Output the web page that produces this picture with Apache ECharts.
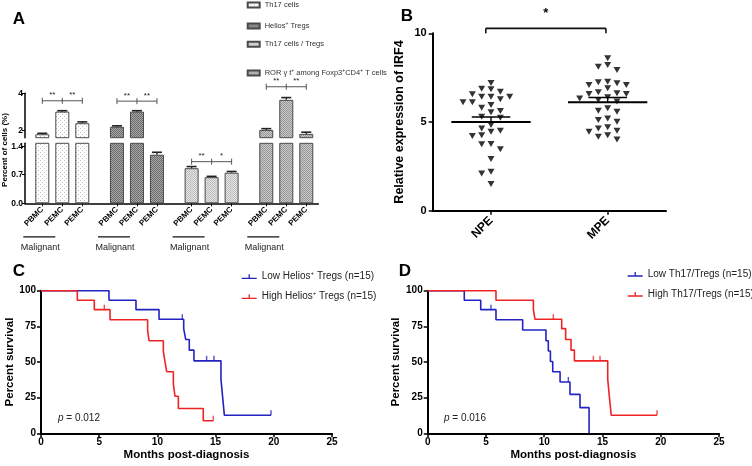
<!DOCTYPE html>
<html><head><meta charset="utf-8">
<script src="https://cdn.jsdelivr.net/npm/echarts@6/dist/echarts.min.js"></script>
<style>html,body{margin:0;padding:0;background:#fff}#c{width:752px;height:466px}</style>
</head><body><div id="c"></div>
<script>
// ---------- Panel A data ----------
const groupNames = ['Th17 cells', 'Helios+ Tregs', 'Th17 cells / Tregs', 'RORγt+ among Foxp3+CD4+ T cells'];
const groupLegendText = ['Th17 cells', 'Helios{sup|+} Tregs', 'Th17 cells / Tregs', 'ROR γ t{sup|+} among Foxp3{sup|+}CD4{sup|+} T cells'];
const barLabels = ['PBMC', 'PEMC', 'PEMC'];
const subLabel = 'Malignant';
const th17Values = [1.81, 3.02, 2.40];
const heliosValues = [2.21, 3.02, 1.19];
const ratioValues = [0.86, 0.64, 0.75];
const rorValues = [2.04, 3.65, 1.83];
const th17Err = [0.05, 0.05, 0.07];
const heliosErr = [0.05, 0.05, 0.06];
const ratioErr = [0.04, 0.02, 0.03];
const rorErr = [0.07, 0.12, 0.09];
const sigLevels = [3.60, 3.58, 1.02, 4.35];
const sigStarsLeft = ['**', '**', '**', '**'];
const sigStarsRight = ['**', '**', '*', '**'];
const yTicksLower = [0, 0.7, 1.4];
const yTicksUpper = [2, 4];

// ---------- Panel B data ----------
const irfCategories = ['NPE', 'MPE'];
const npeValues = [7.2, 6.84, 6.71, 6.88, 6.56, 6.43, 6.43, 6.43, 6.28, 6.11, 5.96, 6.11, 5.81, 5.62, 5.55, 5.3, 5.24, 4.83, 4.64, 4.25, 4.45, 4.51, 4.21, 3.76, 3.74, 3.46, 2.91, 2.2, 2.1, 1.5];
const mpeValues = [8.59, 8.12, 7.93, 8.21, 7.24, 7.09, 6.9, 7.09, 7.18, 7.27, 6.62, 6.58, 6.33, 6.24, 6.39, 6.58, 6.67, 6.15, 5.77, 5.58, 5.64, 5.2, 5.02, 5.11, 4.64, 4.51, 4.7, 4.02, 4.17, 4.45, 4.26];
const irfMeans = [5.0, 6.12];
const irfSems = [0.28, 0.26];
const sigBLevel = [10.28];
const sigBLabel = ['*'];

// ---------- Panel C data ----------
const cNames = ['Low Helios+ Tregs (n=15)', 'High Helios+ Tregs (n=15)'];
const cLegendText = ['Low Helios{sup|+} Tregs (n=15)', 'High Helios{sup|+} Tregs (n=15)'];
const cLowTimes = [0, 5.84, 8.16, 10.14, 12.26, 12.43, 12.74, 13.14, 15.46, 15.61, 15.75, 19.76];
const cLowSurv = [100, 93.3, 86.7, 80, 73.4, 65.8, 58.3, 50.8, 38, 25, 12.7, 12.7];
const cLowCensT = [12.14, 14.23, 14.86, 19.76];
const cLowCensS = [80, 50.8, 50.8, 12.7];
const cHighTimes = [0, 3.12, 4.58, 5.93, 9.16, 9.28, 10.51, 10.65, 10.8, 11.37, 11.51, 11.8, 13.94, 14.8];
const cHighSurv = [100, 93.3, 86.7, 79.6, 72.4, 64.9, 57.7, 50.3, 43.2, 34.6, 26.0, 17.4, 8.8, 8.8];
const cHighCensT = [5.44, 14.8];
const cHighCensS = [86.7, 8.8];
const cPText = '{i|p} = 0.012';

// ---------- Panel D data ----------
const dNames = ['Low Th17/Tregs (n=15)', 'High Th17/Tregs (n=15)'];
const dLowTimes = [0, 3.14, 4.55, 5.86, 8.15, 10.15, 10.35, 10.53, 10.73, 11.36, 12.21, 13.07, 13.85];
const dLowSurv = [100, 93.3, 86.7, 79.6, 72.4, 64.9, 57.7, 50.3, 43.2, 36.0, 27.3, 18.0, 0];
const dLowCensT = [5.43, 12.07];
const dLowCensS = [86.7, 36.0];
const dHighTimes = [0, 5.86, 9.07, 9.2, 11.5, 11.84, 12.3, 12.59, 15.45, 15.6, 15.75, 19.68];
const dHighSurv = [100, 93.3, 86.7, 80, 73.4, 65.8, 58.3, 50.8, 38, 25, 12.7, 12.7];
const dHighCensT = [10.78, 14.22, 14.79, 19.68];
const dHighCensS = [80, 50.8, 50.8, 12.7];
const dPText = '{i|p} = 0.016';

const kmTicksY = 25, kmTicksX = 5;

// ---------- build ----------
const FONT = '"Liberation Sans", Arial, Helvetica, sans-serif';
const BLUE = '#2323c4', RED = '#ee2424';
const STEP = 3.733;
const barX = (g, b) => g * STEP + b;
const LOWER_MAX = 1.47, UPPER_MIN = 1.626;
const groupValues = [th17Values, heliosValues, ratioValues, rorValues];
const groupErrors = [th17Err, heliosErr, ratioErr, rorErr];
const barXs = [];
groupNames.forEach((n, g) => barLabels.forEach((l, b) => barXs.push(barX(g, b))));
const labelAt = v => { const i = barXs.findIndex(x => Math.abs(x - v) < 0.01); return i < 0 ? '' : barLabels[i % 3]; };

function pattern(c1, c2, kind) {
  const cv = document.createElement('canvas');
  cv.width = 4; cv.height = 4;
  const ctx = cv.getContext('2d');
  ctx.fillStyle = c1; ctx.fillRect(0, 0, 4, 4);
  ctx.fillStyle = c2;
  if (kind === 'dots') { ctx.fillRect(0, 0, 1, 1); ctx.fillRect(2, 2, 1, 1); }
  else { for (let y = 0; y < 4; y++) for (let x = 0; x < 4; x++) if ((x + y) % 2 === 0) ctx.fillRect(x, y, 1, 1); }
  return { image: cv, repeat: 'repeat' };
}
const fills = [pattern('#ffffff', '#bdbdbd', 'dots'), pattern('#a8a8a8', '#6a6a6a', 'check'),
               pattern('#e4e4e4', '#bcbcbc', 'check'), pattern('#cccccc', '#949494', 'check')];

function swarm(values, center) {
  const order = values.map((v, i) => i).sort((a, b) => values[b] - values[a]);
  const placed = [], out = new Array(values.length);
  for (const i of order) {
    const v = values[i];
    for (let k = 0; k < 30; k++) {
      const col = k === 0 ? 0 : (k % 2 ? -Math.ceil(k / 2) : Math.ceil(k / 2));
      if (!placed.some(p => p.col === col && Math.abs(p.v - v) < 0.36)) {
        placed.push({ col, v }); out[i] = [center + col * 0.08, v]; break;
      }
    }
  }
  return out;
}

const blackLine = w => ({ show: true, onZero: false, lineStyle: { color: '#000', width: w } });
const series = [];

// A bars
groupNames.forEach((name, g) => {
  [0, 1].forEach(k => {
    const data = groupValues[g].map((v, b) => [barX(g, b), v]).filter(d => k === 0 || d[1] > LOWER_MAX);
    series.push({ type: 'bar', name, xAxisIndex: k, yAxisIndex: k, barWidth: 14, barGap: '-100%', clip: true, silent: true,
      data, itemStyle: { color: fills[g], borderColor: '#4a4a4a', borderWidth: 1 } });
  });
});
// A error bars
const errAll = [];
groupValues.forEach((vals, g) => vals.forEach((v, b) => errAll.push([barX(g, b), v, groupErrors[g][b]])));
function renderErr(params, api) {
  const x = api.value(0), v = api.value(1), e = api.value(2);
  const p0 = api.coord([x, v]), p1 = api.coord([x, v + e]);
  const st = { stroke: '#222', lineWidth: 1.3 };
  return { type: 'group', children: [
    { type: 'line', shape: { x1: p0[0], y1: p0[1], x2: p1[0], y2: p1[1] }, style: st },
    { type: 'line', shape: { x1: p1[0] - 5, y1: p1[1], x2: p1[0] + 5, y2: p1[1] }, style: { stroke: '#222', lineWidth: 1.6 } }
  ] };
}
series.push({ type: 'custom', xAxisIndex: 0, yAxisIndex: 0, z: 5, silent: true, renderItem: renderErr, data: errAll.filter(d => d[1] <= LOWER_MAX) });
series.push({ type: 'custom', xAxisIndex: 1, yAxisIndex: 1, z: 5, silent: true, renderItem: renderErr, data: errAll.filter(d => d[1] > LOWER_MAX) });
// A significance brackets
function renderSig(params, api) {
  const g = api.value(0), lvl = api.value(1);
  const pa = api.coord([barX(g, 0), lvl]), pm = api.coord([barX(g, 1), lvl]), pb = api.coord([barX(g, 2), lvl]);
  const st = { stroke: '#555', lineWidth: 1 };
  const txt = (t, x, y) => ({ type: 'text', style: { text: t, x, y, align: 'center', verticalAlign: 'middle', fontSize: 8, fontFamily: FONT, fill: '#222' } });
  return { type: 'group', children: [
    { type: 'line', shape: { x1: pa[0], y1: pa[1], x2: pb[0], y2: pb[1] }, style: st },
    ...[pa, pm, pb].map(p => ({ type: 'line', shape: { x1: p[0], y1: p[1] - 3, x2: p[0], y2: p[1] + 3 }, style: st })),
    txt(sigStarsLeft[g], (pa[0] + pm[0]) / 2, pa[1] - 5.5),
    txt(sigStarsRight[g], (pm[0] + pb[0]) / 2, pa[1] - 5.5)
  ] };
}
const sigData = sigLevels.map((l, g) => [g, l]);
series.push({ type: 'custom', xAxisIndex: 1, yAxisIndex: 1, z: 6, silent: true, renderItem: renderSig, data: sigData.filter(d => d[1] > LOWER_MAX) });
series.push({ type: 'custom', xAxisIndex: 0, yAxisIndex: 0, z: 6, silent: true, renderItem: renderSig, data: sigData.filter(d => d[1] <= LOWER_MAX) });
// A "Malignant" underline
series.push({ type: 'custom', xAxisIndex: 0, yAxisIndex: 0, z: 6, silent: true, data: groupNames.map((n, g) => [g]),
  renderItem: (params, api) => {
    const p = api.coord([barX(api.value(0), 0), 0]);
    return { type: 'group', children: [
      { type: 'line', shape: { x1: p[0] - 19, y1: p[1] + 33.5, x2: p[0] + 13, y2: p[1] + 33.5 }, style: { stroke: '#111', lineWidth: 1.2 } },
      { type: 'text', style: { text: subLabel, x: p[0] - 2, y: p[1] + 44.5, align: 'center', verticalAlign: 'middle', fontSize: 9, fontFamily: FONT, fill: '#222' } }
    ] };
  } });

// B scatter + mean/sem + bracket
series.push({ type: 'scatter', xAxisIndex: 2, yAxisIndex: 2, symbol: 'triangle', symbolRotate: 180, symbolSize: [7, 6], silent: true,
  itemStyle: { color: '#000' }, data: swarm(npeValues, 0).concat(swarm(mpeValues, 1)) });
series.push({ type: 'custom', xAxisIndex: 2, yAxisIndex: 2, z: 4, silent: true, data: irfMeans.map((m, i) => [i, m, irfSems[i]]),
  renderItem: (params, api) => {
    const i = api.value(0), m = api.value(1), s = api.value(2);
    const a = api.coord([i - 0.34, m]), b = api.coord([i + 0.34, m]);
    const c = api.coord([i - 0.165, m + s]), d = api.coord([i + 0.165, m + s]), mid = api.coord([i, m]);
    return { type: 'group', children: [
      { type: 'line', shape: { x1: a[0], y1: a[1], x2: b[0], y2: b[1] }, style: { stroke: '#000', lineWidth: 2 } },
      { type: 'line', shape: { x1: c[0], y1: c[1], x2: d[0], y2: d[1] }, style: { stroke: '#000', lineWidth: 1.6 } },
      { type: 'line', shape: { x1: mid[0], y1: mid[1], x2: mid[0], y2: c[1] }, style: { stroke: '#000', lineWidth: 1.4 } }
    ] };
  } });
series.push({ type: 'custom', xAxisIndex: 2, yAxisIndex: 2, z: 4, silent: true, data: sigBLevel.map((l, i) => [l, i]),
  renderItem: (params, api) => {
    const l = api.value(0);
    const a = api.coord([-0.045, l]), b = api.coord([0.985, l]);
    const st = { stroke: '#111', lineWidth: 1.6 };
    return { type: 'group', children: [
      { type: 'line', shape: { x1: a[0], y1: a[1], x2: b[0], y2: b[1] }, style: st },
      { type: 'line', shape: { x1: a[0], y1: a[1], x2: a[0], y2: a[1] + 5 }, style: st },
      { type: 'line', shape: { x1: b[0], y1: b[1], x2: b[0], y2: b[1] + 5 }, style: st },
      { type: 'text', style: { text: sigBLabel[api.value(1)], x: (a[0] + b[0]) / 2, y: a[1] - 15, align: 'center', verticalAlign: 'middle', fontSize: 13, fontWeight: 'bold', fontFamily: FONT, fill: '#000' } }
    ] };
  } });

// C/D KM curves
function km(idx, name, color, times, surv, censT, censS) {
  series.push({ type: 'line', name, xAxisIndex: idx, yAxisIndex: idx, step: 'end', showSymbol: false, silent: true,
    lineStyle: { color, width: 1.6 }, itemStyle: { color }, data: times.map((t, i) => [t, surv[i]]) });
  series.push({ type: 'scatter', xAxisIndex: idx, yAxisIndex: idx, symbol: 'rect', symbolSize: [1.4, 5], symbolOffset: [0, -2.5], silent: true,
    itemStyle: { color }, data: censT.map((t, i) => [t, censS[i]]) });
}
km(3, cNames[0], BLUE, cLowTimes, cLowSurv, cLowCensT, cLowCensS);
km(3, cNames[1], RED, cHighTimes, cHighSurv, cHighCensT, cHighCensS);
km(4, dNames[0], BLUE, dLowTimes, dLowSurv, dLowCensT, dLowCensS);
km(4, dNames[1], RED, dHighTimes, dHighSurv, dHighCensT, dHighCensS);

const kmX = gi => ({ gridIndex: gi, type: 'value', min: 0, max: 25, interval: kmTicksX, axisLine: blackLine(2),
  axisTick: { show: true, length: 4, lineStyle: { color: '#000', width: 1.5 } },
  axisLabel: { fontSize: 10, fontWeight: 'bold', color: '#000', margin: 4 }, splitLine: { show: false },
  name: 'Months post-diagnosis', nameLocation: 'middle', nameGap: 16, nameTextStyle: { fontSize: 11.5, fontWeight: 'bold', color: '#000' } });
const kmY = gi => ({ gridIndex: gi, type: 'value', min: 0, max: 100, interval: kmTicksY, axisLine: blackLine(2),
  axisTick: { show: true, length: 4, lineStyle: { color: '#000', width: 1.5 } },
  axisLabel: { fontSize: 10, fontWeight: 'bold', color: '#000', margin: 5 }, splitLine: { show: false },
  name: 'Percent survival', nameLocation: 'middle', nameGap: 24, nameTextStyle: { fontSize: 11.5, fontWeight: 'bold', color: '#000' } });

const supRich = size => ({ sup: { fontSize: size, verticalAlign: 'top', padding: [0, 0, 0, 0] } });
const kmIcon = 'path://M0,5.5 L16,5.5 L16,7 L0,7 Z M7.3,2 L8.7,2 L8.7,6 L7.3,6 Z';

const option = {
  animation: false,
  textStyle: { fontFamily: FONT },
  grid: [
    { left: 25, top: 143.3, width: 293.3, height: 60 },
    { left: 25, top: 93.3, width: 293.3, height: 44.4 },
    { left: 432.7, top: 33.3, width: 233.3, height: 177.4 },
    { left: 41, top: 290.7, width: 291, height: 142.6 },
    { left: 427.7, top: 290.7, width: 291.3, height: 142.6 }
  ],
  xAxis: [
    { gridIndex: 0, type: 'value', min: -0.865, max: 13.8, axisLine: blackLine(1.5),
      axisTick: { show: true, customValues: barXs, length: 3, lineStyle: { color: '#000' } },
      axisLabel: { customValues: barXs, rotate: 45, fontSize: 8, fontWeight: 'bold', color: '#000', margin: 5, formatter: v => labelAt(v) },
      splitLine: { show: false } },
    { gridIndex: 1, type: 'value', min: -0.865, max: 13.8, show: false },
    { gridIndex: 2, type: 'value', min: -0.5, max: 1.5, axisLine: blackLine(2),
      axisTick: { show: true, customValues: [0, 1], length: 4, lineStyle: { color: '#000', width: 1.5 } },
      axisLabel: { customValues: [0, 1], rotate: 45, fontSize: 12, fontWeight: 'bold', color: '#000', margin: 8, formatter: v => irfCategories[Math.round(v)] },
      splitLine: { show: false } },
    kmX(3), kmX(4)
  ],
  yAxis: [
    { gridIndex: 0, type: 'value', min: 0, max: LOWER_MAX, axisLine: blackLine(1.5),
      axisTick: { show: true, customValues: yTicksLower, length: 3, lineStyle: { color: '#000' } },
      axisLabel: { customValues: yTicksLower, fontSize: 8.5, fontWeight: 'bold', color: '#000', margin: 2, formatter: v => v.toFixed(1) },
      splitLine: { show: false } },
    { gridIndex: 1, type: 'value', min: UPPER_MIN, max: 4, axisLine: blackLine(1.5),
      axisTick: { show: true, customValues: yTicksUpper, length: 3, lineStyle: { color: '#000' } },
      axisLabel: { customValues: yTicksUpper, fontSize: 8.5, fontWeight: 'bold', color: '#000', margin: 2, formatter: v => String(v) },
      splitLine: { show: false } },
    { gridIndex: 2, type: 'value', min: 0, max: 10, interval: 5, axisLine: blackLine(2),
      axisTick: { show: true, length: 4, lineStyle: { color: '#000', width: 1.5 } },
      axisLabel: { fontSize: 11, fontWeight: 'bold', color: '#000', margin: 6 }, splitLine: { show: false },
      name: 'Relative expression of IRF4', nameLocation: 'middle', nameGap: 27, nameTextStyle: { fontSize: 12.5, fontWeight: 'bold', color: '#000' } },
    kmY(3), kmY(4)
  ],
  legend: [
    ...groupNames.map((n, i) => ({ data: [n], left: 246.7, top: [0, 21, 39.3, 68][i], orient: 'vertical', padding: 0,
      icon: 'rect', itemWidth: 12, itemHeight: 5, itemGap: 0, selectedMode: false,
      formatter: nm => groupLegendText[groupNames.indexOf(nm)],
      textStyle: { fontSize: 7.5, color: '#333', lineHeight: 10, rich: supRich(5) } })),
    { data: cNames, left: 241.7, top: 270.7, orient: 'vertical', padding: 0, icon: kmIcon, itemWidth: 15, itemHeight: 5,
      itemGap: 8, selectedMode: false, formatter: nm => cLegendText[cNames.indexOf(nm)],
      textStyle: { fontSize: 10, color: '#222', lineHeight: 12, rich: supRich(6) } },
    { data: dNames, left: 627.7, top: 268.3, orient: 'vertical', padding: 0, icon: kmIcon, itemWidth: 15, itemHeight: 5,
      itemGap: 8, selectedMode: false, textStyle: { fontSize: 10, color: '#222', lineHeight: 12 } }
  ],
  series,
  graphic: [
    { type: 'text', x: 19, y: 19, style: { text: 'A', font: 'bold 17px ' + FONT, align: 'center', verticalAlign: 'middle', fill: '#000' } },
    { type: 'text', x: 407, y: 16, style: { text: 'B', font: 'bold 17px ' + FONT, align: 'center', verticalAlign: 'middle', fill: '#000' } },
    { type: 'text', x: 19, y: 271, style: { text: 'C', font: 'bold 17px ' + FONT, align: 'center', verticalAlign: 'middle', fill: '#000' } },
    { type: 'text', x: 405, y: 271, style: { text: 'D', font: 'bold 17px ' + FONT, align: 'center', verticalAlign: 'middle', fill: '#000' } },
    { type: 'text', x: 5, y: 150, rotation: Math.PI / 2, style: { text: 'Percent of cells (%)', font: 'bold 8px ' + FONT, align: 'center', verticalAlign: 'middle', fill: '#000' } },
    { type: 'text', x: 58, y: 418, style: { text: cPText, rich: { i: { fontStyle: 'italic', fontSize: 10, fontFamily: FONT } }, font: '10px ' + FONT, verticalAlign: 'middle', fill: '#222' } },
    { type: 'text', x: 444, y: 418, style: { text: dPText, rich: { i: { fontStyle: 'italic', fontSize: 10, fontFamily: FONT } }, font: '10px ' + FONT, verticalAlign: 'middle', fill: '#222' } }
  ]
};
const chart = echarts.init(document.getElementById('c'), null, { renderer: 'canvas' });
chart.setOption(option);
</script></body></html>
